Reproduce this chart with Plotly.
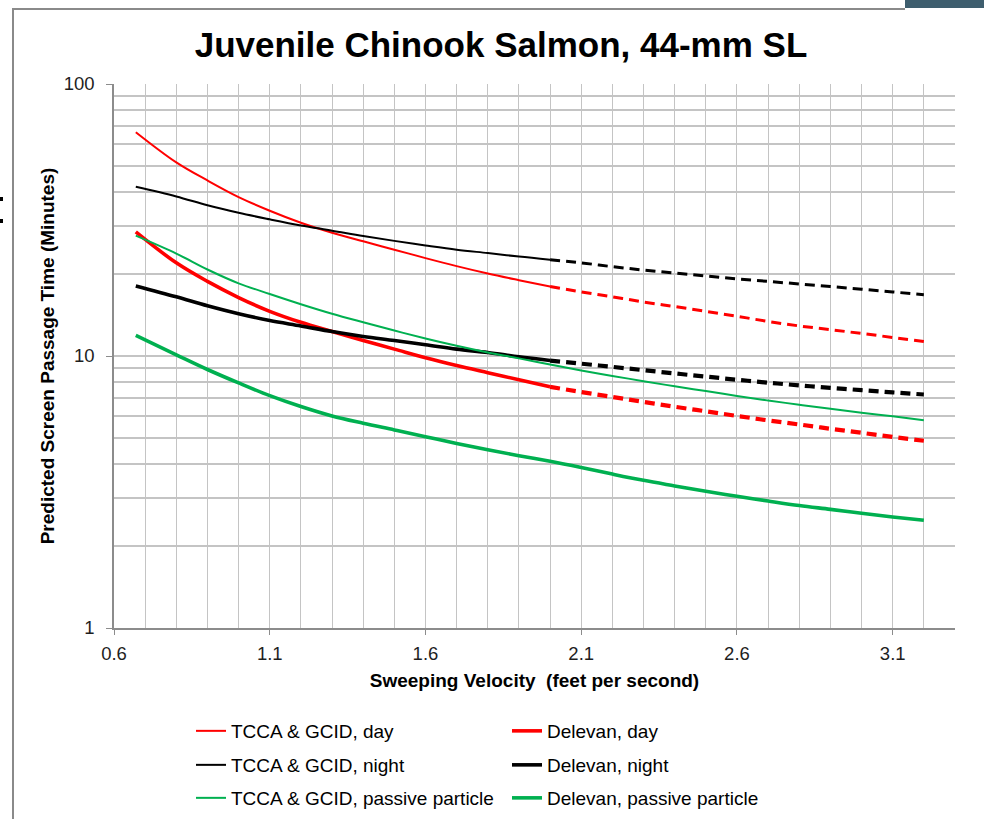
import plotly.graph_objects as go

# ---------------- data ----------------
x_base = [0.67, 0.8, 0.9, 1.0, 1.1, 1.2, 1.3, 1.4, 1.5, 1.6, 1.7, 1.8, 1.9, 2.0]
x_ext = [2.0, 2.1, 2.2, 2.3, 2.4, 2.5, 2.6, 2.7, 2.8, 2.9, 3.0, 3.1, 3.2]
x_full = x_base + x_ext[1:]

tcca_day = [66.5, 51.5, 44.2, 38.4, 34.2, 30.9, 28.4, 26.4, 24.6, 22.9, 21.4, 20.1, 19.0, 18.0]
tcca_day_ext = [18.0, 17.2, 16.5, 15.8, 15.2, 14.6, 14.0, 13.4, 12.9, 12.5, 12.1, 11.7, 11.3]

tcca_night = [41.9, 38.6, 35.8, 33.6, 31.8, 30.2, 28.9, 27.6, 26.5, 25.5, 24.6, 23.9, 23.2, 22.6]
tcca_night_ext = [22.6, 22.0, 21.3, 20.7, 20.2, 19.7, 19.2, 18.8, 18.4, 18.0, 17.6, 17.2, 16.8]

tcca_passive = [27.7, 23.8, 20.8, 18.5, 16.9, 15.5, 14.3, 13.3, 12.4, 11.6, 10.9, 10.3, 9.80, 9.31,
                8.85, 8.45, 8.08, 7.74, 7.43, 7.13, 6.86, 6.62, 6.40, 6.19, 6.00, 5.81]

delevan_day = [28.6, 22.0, 18.8, 16.4, 14.6, 13.3, 12.3, 11.4, 10.6, 9.85, 9.22, 8.68, 8.18, 7.70]
delevan_day_ext = [7.70, 7.37, 7.07, 6.78, 6.51, 6.26, 6.02, 5.80, 5.60, 5.40, 5.22, 5.04, 4.88]

delevan_night = [18.1, 16.5, 15.3, 14.3, 13.5, 12.9, 12.3, 11.8, 11.4, 11.0, 10.6, 10.3, 9.93, 9.62]
delevan_night_ext = [9.62, 9.37, 9.12, 8.87, 8.63, 8.40, 8.18, 7.98, 7.80, 7.64, 7.49, 7.35, 7.22]

delevan_passive = [11.9, 10.1, 8.92, 7.96, 7.15, 6.52, 6.02, 5.66, 5.35, 5.05, 4.77, 4.52, 4.30, 4.10,
                   3.89, 3.68, 3.49, 3.33, 3.18, 3.05, 2.93, 2.82, 2.73, 2.64, 2.56, 2.49]

y_major = [1, 10, 100]
y_minor = [2, 3, 4, 5, 6, 7, 8, 9, 20, 30, 40, 50, 60, 70, 80, 90]

RED = "#FF0000"
BLACK = "#000000"
GREEN = "#00B050"
FONT = "Liberation Sans, Arial, sans-serif"

fig = go.Figure()

def add(x, y, name, color, width, legend, dash="solid", show=True):
    fig.add_trace(go.Scatter(
        x=x, y=y, name=name, mode="lines",
        line=dict(color=color, width=width, dash=dash, shape="spline", smoothing=1.0),
        legend=legend, showlegend=show, hoverinfo="x+y+name"))

DASH = "10px,6px"
# row 1
add(x_base, tcca_day, "TCCA & GCID, day", RED, 2, "legend")
add(x_base, delevan_day, "Delevan, day", RED, 3.6, "legend")
add(x_ext, tcca_day_ext, "TCCA & GCID, day (extrapolated)", RED, 3, "legend", DASH, False)
add(x_ext, delevan_day_ext, "Delevan, day (extrapolated)", RED, 4.2, "legend", DASH, False)
# row 2
add(x_base, tcca_night, "TCCA & GCID, night", BLACK, 2, "legend2")
add(x_base, delevan_night, "Delevan, night", BLACK, 3.6, "legend2")
add(x_ext, tcca_night_ext, "TCCA & GCID, night (extrapolated)", BLACK, 3, "legend2", DASH, False)
add(x_ext, delevan_night_ext, "Delevan, night (extrapolated)", BLACK, 4.2, "legend2", DASH, False)
# row 3
add(x_full, tcca_passive, "TCCA & GCID, passive particle", GREEN, 2, "legend3")
add(x_full, delevan_passive, "Delevan, passive particle", GREEN, 3.6, "legend3")

# ---------------- layout ----------------
W, H = 984, 819
L, R, T, B = 114, 29, 84, 191
pw, ph = W - L - R, H - T - B

def px(xp):
    return (xp - L) / pw

def py(yp):
    return (H - B - yp) / ph

GRID = "#C4C4C4"
AXIS = "#8C8C8C"

leg_common = dict(orientation="h", xanchor="left", yanchor="middle",
                  entrywidth=271, entrywidthmode="pixels",
                  font=dict(family=FONT, size=19, color="#000000"),
                  bgcolor="rgba(0,0,0,0)", borderwidth=0, itemwidth=30,
                  traceorder="normal")

fig.update_layout(
    width=W, height=H,
    margin=dict(l=L, r=R, t=T, b=B, autoexpand=False),
    paper_bgcolor="#FFFFFF", plot_bgcolor="#FFFFFF",
    font=dict(family=FONT, color="#000000"),
    title=dict(text="Juvenile Chinook Salmon, 44-mm SL",
               font=dict(family=FONT, size=35, color="#000000", weight="bold"),
               x=px(501), xref="paper", xanchor="center",
               y=1 - 45 / H, yref="container", yanchor="middle"),
    xaxis=dict(range=[0.6, 3.3], tick0=0.6, dtick=0.5, tickformat=".1f",
               showgrid=True, gridcolor=GRID, gridwidth=1,
               minor=dict(dtick=0.1, tick0=0.6, showgrid=True, gridcolor=GRID, gridwidth=1, ticks=""),
               showline=True, linecolor=AXIS, linewidth=1.5,
               ticks="outside", ticklen=5, tickcolor=AXIS, ticklabelstandoff=3,
               tickfont=dict(family=FONT, size=18.5, color="#1E1E1E"),
               zeroline=False,
               title=dict(text="Sweeping Velocity\u00a0 (feet per second)",
                          font=dict(family=FONT, size=19, color="#000000", weight="bold"),
                          standoff=11)),
    yaxis=dict(type="log", range=[0, 2], tickvals=y_major, ticktext=[str(v) for v in y_major],
               showgrid=True, gridcolor=GRID, gridwidth=1.5,
               minor=dict(tickvals=y_minor, showgrid=True, gridcolor=GRID, gridwidth=1.5, ticks=""),
               showline=True, linecolor=AXIS, linewidth=1.5,
               ticks="outside", ticklen=6, tickcolor=AXIS, ticklabelstandoff=8,
               tickfont=dict(family=FONT, size=18.5, color="#1E1E1E"),
               zeroline=False,
               title=dict(text="Predicted Screen Passage Time (Minutes)",
                          font=dict(family=FONT, size=19, color="#000000", weight="bold"),
                          standoff=4)),
    legend=dict(leg_common, x=px(191), y=py(731)),
    legend2=dict(leg_common, x=px(191), y=py(765)),
    legend3=dict(leg_common, x=px(191), y=py(798)),
    shapes=[
        # outer chart frame (left and top edges)
        dict(type="line", xref="paper", yref="paper", x0=px(13), x1=px(13), y0=py(9), y1=py(830),
             line=dict(color="#8A8A8A", width=2)),
        dict(type="line", xref="paper", yref="paper", x0=px(12), x1=px(905), y0=py(9), y1=py(9),
             line=dict(color="#8A8A8A", width=2)),
        # dark tab at top right
        dict(type="rect", xref="paper", yref="paper", x0=px(905), x1=px(990), y0=py(-2), y1=py(8),
             line=dict(width=0), fillcolor="#3E5E6E"),
        # clipped glyph fragment at the left edge
        dict(type="rect", xref="paper", yref="paper", x0=px(-1), x1=px(3), y0=py(197), y1=py(201),
             line=dict(width=0), fillcolor="#000000"),
        dict(type="rect", xref="paper", yref="paper", x0=px(-1), x1=px(3), y0=py(219), y1=py(223),
             line=dict(width=0), fillcolor="#000000"),
    ],
)

fig.write_html("out.html")
